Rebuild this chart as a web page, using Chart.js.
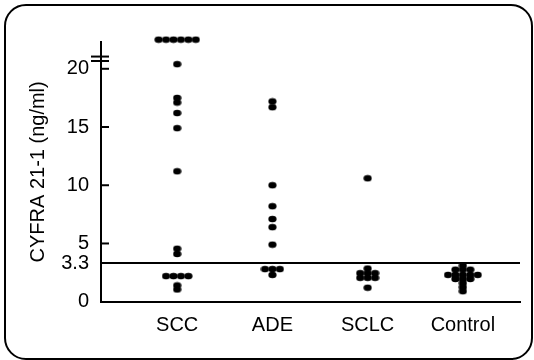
<!DOCTYPE html>
<html>
<head>
<meta charset="utf-8">
<script src="https://cdn.jsdelivr.net/npm/chart.js@4.4.1/dist/chart.umd.min.js"></script>
<style>
  html, body { margin: 0; padding: 0; background: #fff; }
  #wrap { position: relative; width: 534px; height: 360px; }
  #frame {
    position: absolute; left: 4px; top: 4px; width: 529px; height: 356px;
    box-sizing: border-box; border: 2px solid #000; border-radius: 22px;
    pointer-events: none;
  }
</style>
</head>
<body>
<div id="wrap">
  <canvas id="dotChart" width="534" height="360"></canvas>
  <div id="frame"></div>
</div>
<script>
// groups along the x axis
const groups = ['SCC', 'ADE', 'SCLC', 'Control'];

// CYFRA 21-1 values (ng/ml); 22.5 = off-scale (> break)
const sccValues = [22.5, 22.5, 22.5, 22.5, 22.5, 22.5, 20.4, 17.5, 17.1, 16.2, 14.9, 11.2, 4.55, 4.1, 2.2, 2.2, 2.2, 2.2, 1.4, 1.05];
const adeValues = [17.2, 16.7, 10.0, 8.2, 7.1, 6.4, 4.9, 2.8, 2.8, 2.8, 2.3];
const sclcValues = [10.6, 2.85, 2.45, 2.45, 2.45, 2.05, 2.05, 2.05, 1.2];
const controlValues = [3.1, 2.75, 2.75, 2.75, 2.3, 2.3, 2.3, 2.3, 2.3, 1.95, 1.95, 1.95, 1.6, 1.25, 0.9];

// y axis ticks, cut-off line and axis break
const yTicks = [0, 3.3, 5, 10, 15, 20];
const cutoff = 3.3;
const axisBreak = [20.67, 21.05];

const allValues = [sccValues, adeValues, sclcValues, controlValues];

// equal values are laid side by side around the group centre
function spreadPoints(values, centre) {
    const step = 0.078;
    const counts = {};
    values.forEach(v => counts[v] = (counts[v] || 0) + 1);
    const seen = {};
    return values.map(v => {
        seen[v] = seen[v] === undefined ? 0 : seen[v] + 1;
        return { x: centre + (seen[v] - (counts[v] - 1) / 2) * step, y: v };
    });
}

// slightly flattened dot like the scanned original
const dot = document.createElement('canvas');
dot.width = 9;
dot.height = 8;
const dctx = dot.getContext('2d');
dctx.fillStyle = '#000';
dctx.beginPath();
dctx.ellipse(4.5, 4, 4.1, 3.3, 0, 0, Math.PI * 2);
dctx.fill();

const axisMarks = {
    id: 'axisMarks',
    afterDraw(chart) {
        const { ctx, scales: { y }, chartArea } = chart;
        const x0 = chartArea.left;
        ctx.save();
        ctx.strokeStyle = '#000';
        ctx.lineWidth = 2;
        // inward tick marks
        yTicks.filter(v => v !== 0 && v !== cutoff).forEach(v => {
            const py = y.getPixelForValue(v);
            ctx.beginPath();
            ctx.moveTo(x0, py);
            ctx.lineTo(x0 + 8, py);
            ctx.stroke();
        });
        // break marks on the axis
        axisBreak.forEach(v => {
            const py = y.getPixelForValue(v);
            ctx.beginPath();
            ctx.moveTo(x0 - 10, py);
            ctx.lineTo(x0 + 8, py);
            ctx.stroke();
        });
        ctx.restore();
    }
};

Chart.defaults.font.family = "'Liberation Sans', Arial, sans-serif";
Chart.defaults.color = '#000';

const ctx = document.getElementById('dotChart').getContext('2d');
const dotChart = new Chart(ctx, {
    type: 'scatter',
    data: {
        datasets: allValues.map((values, i) => ({
            label: groups[i],
            data: spreadPoints(values, i + 1),
            pointStyle: dot,
            pointRadius: 4,
            clip: false
        }))
    },
    options: {
        responsive: false,
        animation: false,
        layout: { padding: { top: 42, right: 14, bottom: 0, left: 0 } },
        plugins: { legend: { display: false }, tooltip: { enabled: false } },
        scales: {
            x: {
                type: 'linear',
                min: 0.2,
                max: 4.6,
                grid: { display: false, drawTicks: false },
                border: { display: true, color: '#000', width: 2 },
                afterBuildTicks: scale => { scale.ticks = groups.map((g, i) => ({ value: i + 1 })); },
                afterFit: scale => { scale.height = 58.3; },
                ticks: {
                    autoSkip: false,
                    maxRotation: 0,
                    padding: 12,
                    font: { size: 20 },
                    callback: v => groups[v - 1]
                }
            },
            y: {
                min: 0,
                max: 22.3,
                grid: {
                    drawTicks: false,
                    lineWidth: 2,
                    color: c => (c.tick && c.tick.value === cutoff) ? '#000' : 'rgba(0,0,0,0)'
                },
                border: { display: true, color: '#000', width: 2 },
                afterBuildTicks: scale => { scale.ticks = yTicks.map(v => ({ value: v })); },
                afterFit: scale => { scale.width = 101; },
                ticks: {
                    padding: 12,
                    font: { size: 20 },
                    callback: v => String(v)
                },
                title: {
                    display: true,
                    text: 'CYFRA 21-1 (ng/ml)',
                    font: { size: 20 },
                    padding: { top: 26, bottom: 0 }
                }
            }
        }
    },
    plugins: [axisMarks]
});
</script>
</body>
</html>
